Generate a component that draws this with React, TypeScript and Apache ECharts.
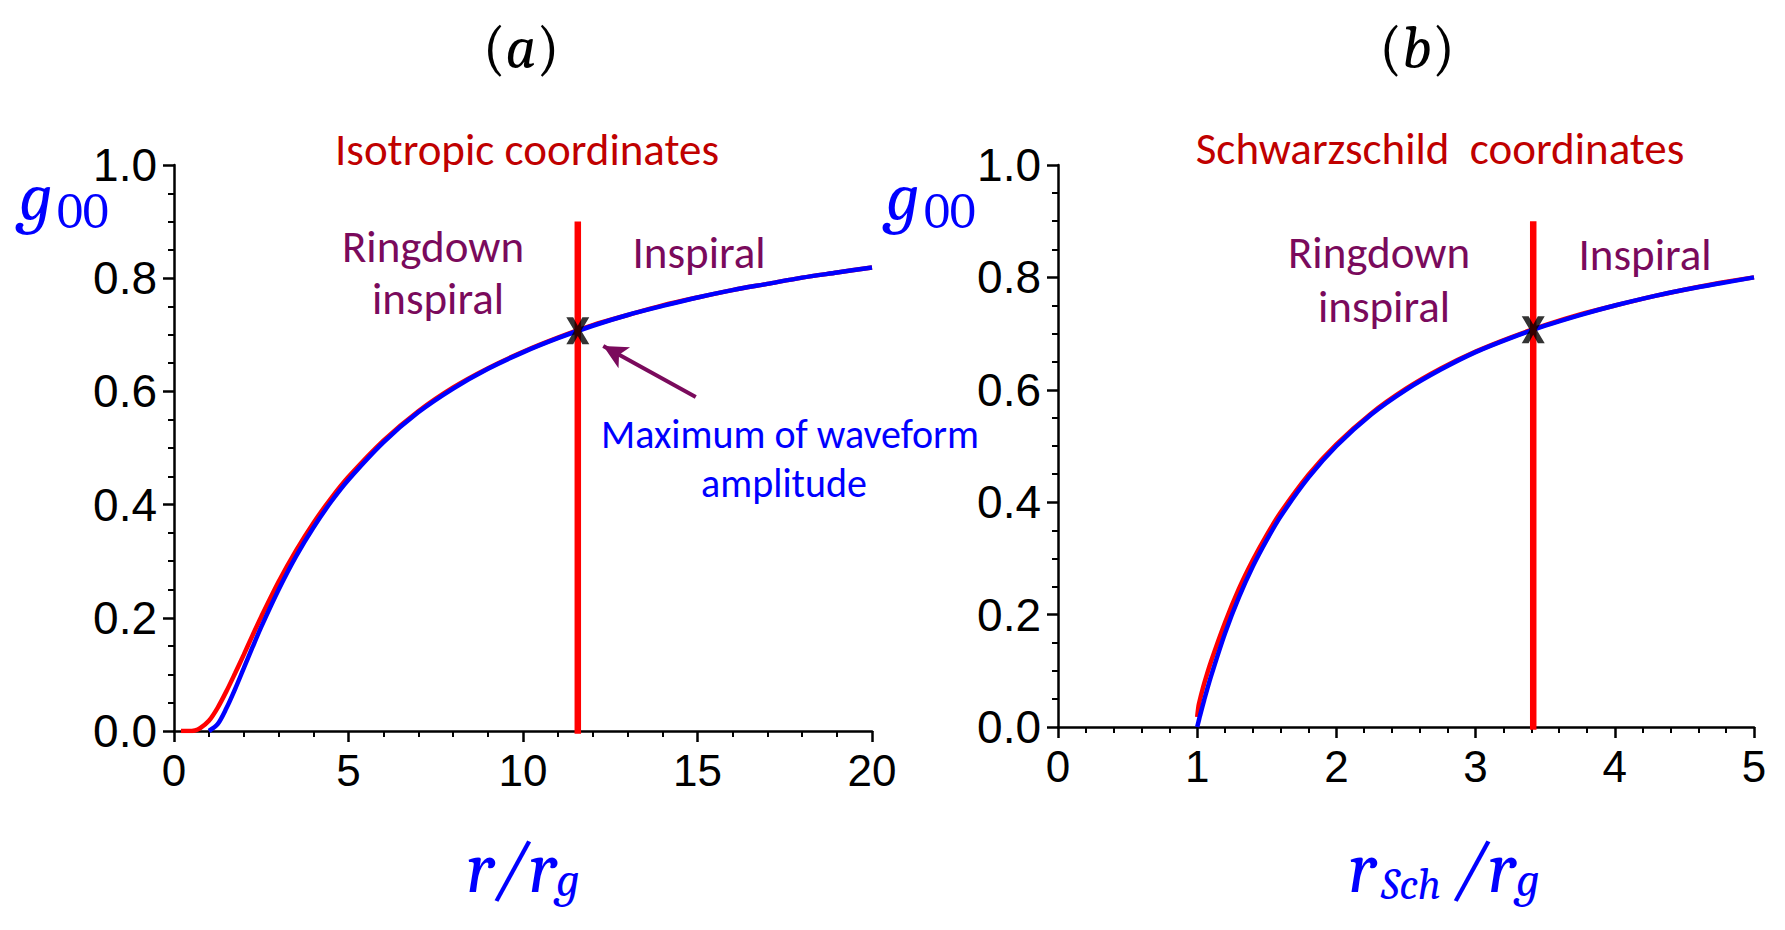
import React, { useEffect, useRef } from "react";
import * as echarts from "echarts";

// Panel (a): isotropic radius r/r_g
const isoBlueR = [1, 1.25, 1.5, 1.75, 2, 2.25, 2.5, 3, 3.5, 4, 4.5, 5, 6, 7, 8, 9, 10, 11, 12, 13, 14, 15, 16, 17, 18, 19, 20];
const isoBlueG = [0, 0.012, 0.04, 0.074, 0.111, 0.148, 0.184, 0.25, 0.309, 0.36, 0.405, 0.444, 0.51, 0.563, 0.605, 0.64, 0.669, 0.694, 0.716, 0.735, 0.751, 0.766, 0.779, 0.79, 0.801, 0.81, 0.819];
const isoRedR = [0.2, 0.4, 0.6, 0.75, 1, 1.25, 1.5, 1.75, 2, 2.25, 2.5, 3, 3.5, 4, 4.5, 5, 6, 7, 8, 9, 10, 11, 12, 13, 14, 15, 16, 17, 18, 19, 20];
const isoRedG = [0, 0, 0.001, 0.005, 0.018, 0.041, 0.07, 0.102, 0.135, 0.169, 0.202, 0.264, 0.319, 0.368, 0.411, 0.449, 0.513, 0.565, 0.607, 0.641, 0.67, 0.695, 0.717, 0.735, 0.752, 0.766, 0.779, 0.79, 0.801, 0.81, 0.819];

// Panel (b): Schwarzschild radius r_Sch/r_g
const schR = [1, 1.01, 1.02, 1.05, 1.1, 1.2, 1.3, 1.4, 1.5, 1.6, 1.8, 2, 2.25, 2.5, 2.75, 3, 3.25, 3.5, 3.75, 4, 4.25, 4.5, 4.75, 5];
const schBlueG = [0, 0.01, 0.02, 0.048, 0.091, 0.167, 0.231, 0.286, 0.333, 0.375, 0.444, 0.5, 0.556, 0.6, 0.636, 0.667, 0.692, 0.714, 0.733, 0.75, 0.765, 0.778, 0.789, 0.8];
const schRedG = [0.018, 0.038, 0.049, 0.077, 0.117, 0.186, 0.246, 0.297, 0.342, 0.382, 0.449, 0.503, 0.558, 0.602, 0.638, 0.668, 0.693, 0.715, 0.734, 0.75, 0.765, 0.778, 0.79, 0.8];

// Maximum of the waveform amplitude: position and height of the divider
const maxIso = [11.57, 0.707];
const maxSch = [3.414, 0.707];
const dividerTop = 0.9;

// Arrow pointing at the maximum in panel (a)
const arrowFrom = [14.95, 0.59];
const arrowTo = [12.3, 0.68];

const RED = "#FF0000";
const BLUE = "#0000FF";
const DARK_RED = "#C00000";
const PURPLE = "#7A0A5C";
const SANS = "'Liberation Sans', Arial, sans-serif";
const TEXT = "Carlito, Lato, 'Open Sans', sans-serif";
const MATH = "Caladea, 'DejaVu Serif', serif";

const X_MARK = "path://M0,0 L3,0 L5,3.4 L7,0 L10,0 L6.5,5.5 L10,11 L7,11 L5,7.6 L3,11 L0,11 L3.5,5.5 Z";

const zip = (xs: number[], ys: number[]) => xs.map((x, i) => [x, ys[i]]);

function makeX(gridIndex: number, max: number, interval: number, minorSplit: number) {
  return {
    type: "value",
    gridIndex,
    min: 0,
    max,
    interval,
    axisLine: { show: true, onZero: false, lineStyle: { color: "#000", width: 2.5 } },
    axisTick: { show: true, length: 11, lineStyle: { color: "#000", width: 2.5 } },
    minorTick: { show: true, splitNumber: minorSplit, length: 6, lineStyle: { color: "#000", width: 2 } },
    axisLabel: { color: "#000", fontFamily: SANS, fontSize: 44, margin: 17 },
    splitLine: { show: false },
    minorSplitLine: { show: false },
  };
}

function makeY(gridIndex: number) {
  return {
    type: "value",
    gridIndex,
    min: 0,
    max: 1,
    interval: 0.2,
    axisLine: { show: true, onZero: false, lineStyle: { color: "#000", width: 2.5 } },
    axisTick: { show: true, length: 11, lineStyle: { color: "#000", width: 2.5 } },
    minorTick: { show: true, splitNumber: 4, length: 6, lineStyle: { color: "#000", width: 2 } },
    axisLabel: {
      color: "#000",
      fontFamily: SANS,
      fontSize: 46,
      margin: 17,
      formatter: (v: number) => v.toFixed(1),
    },
    splitLine: { show: false },
    minorSplitLine: { show: false },
  };
}

function curve(idx: number, data: number[][], color: string, z: number) {
  return {
    type: "line",
    xAxisIndex: idx,
    yAxisIndex: idx,
    data,
    showSymbol: false,
    smooth: 0.3,
    lineStyle: { color, width: 4.5 },
    z,
    silent: true,
  };
}

function divider(idx: number, at: number[]) {
  return {
    type: "line",
    xAxisIndex: idx,
    yAxisIndex: idx,
    data: [
      [at[0], -0.005],
      [at[0], dividerTop],
    ],
    showSymbol: false,
    lineStyle: { color: RED, width: 6.5 },
    z: 5,
    silent: true,
  };
}

function marker(idx: number, at: number[], extra: any = {}) {
  return {
    type: "scatter",
    xAxisIndex: idx,
    yAxisIndex: idx,
    data: [at],
    symbol: X_MARK,
    symbolSize: [23, 27],
    itemStyle: { color: "#000" },
    z: 6,
    silent: true,
    ...extra,
  };
}

function txt(text: string, x: number, y: number, color: string, size: number, extra: any = {}) {
  return {
    type: "text",
    x,
    y,
    silent: true,
    style: {
      text,
      fill: color,
      fontFamily: TEXT,
      fontSize: size,
      align: "center",
      verticalAlign: "middle",
      ...extra,
    },
  };
}

function mathParts(parts: { t: string; x: number; y: number; size: number; italic?: boolean }[], color: string) {
  return parts.map((p) => ({
    type: "text",
    x: p.x,
    y: p.y,
    silent: true,
    style: {
      text: p.t,
      fill: color,
      fontFamily: MATH,
      fontSize: p.size,
      fontStyle: p.italic === false ? "normal" : "italic",
      align: "left",
      verticalAlign: "middle",
    },
  }));
}

function panelLabel(letter: string, cx: number, cy: number) {
  return {
    type: "text",
    x: cx,
    y: cy,
    silent: true,
    style: {
      text: `{p|(}{i|${letter}}{p|)}`,
      align: "center",
      verticalAlign: "middle",
      rich: {
        p: { fontFamily: MATH, fontSize: 60, fill: "#000" },
        i: { fontFamily: MATH, fontSize: 60, fontStyle: "italic", fill: "#000" },
      },
    },
  };
}

const option = {
  animation: false,
  backgroundColor: "#fff",
  grid: [
    { left: 174, top: 165, width: 698, height: 566 },
    { left: 1058, top: 165, width: 696, height: 562 },
  ],
  xAxis: [makeX(0, 20, 5, 5), makeX(1, 5, 1, 5)],
  yAxis: [makeY(0), makeY(1)],
  series: [
    curve(0, zip(isoRedR, isoRedG), RED, 2),
    curve(0, zip(isoBlueR, isoBlueG), BLUE, 3),
    divider(0, maxIso),
    marker(0, maxIso, {
      markLine: {
        silent: true,
        symbol: ["none", "arrow"],
        symbolSize: [18, 24],
        lineStyle: { color: PURPLE, width: 4, type: "solid" },
        label: { show: false },
        data: [[{ coord: arrowFrom }, { coord: arrowTo }]],
      },
    }),
    curve(1, zip(schR, schRedG), RED, 2),
    curve(1, zip(schR, schBlueG), BLUE, 3),
    divider(1, maxSch),
    marker(1, maxSch),
  ],
  graphic: [
    panelLabel("a", 521, 48),
    panelLabel("b", 1417, 48),
    txt("Isotropic coordinates", 527, 149, DARK_RED, 45),
    txt("Schwarzschild  coordinates", 1440, 148, DARK_RED, 45),
    txt("Ringdown", 433, 246, PURPLE, 45),
    txt("inspiral", 438, 298, PURPLE, 45),
    txt("Inspiral", 699, 252, PURPLE, 45),
    txt("Ringdown", 1379, 252, PURPLE, 45),
    txt("inspiral", 1384, 306, PURPLE, 45),
    txt("Inspiral", 1645, 254, PURPLE, 45),
    txt("Maximum of waveform", 790, 434, BLUE, 40),
    txt("amplitude", 784, 483, BLUE, 40),
    ...mathParts(
      [
        { t: "g", x: 19, y: 198, size: 68 },
        { t: "00", x: 57, y: 212, size: 50, italic: false },
      ],
      BLUE
    ),
    ...mathParts(
      [
        { t: "g", x: 886, y: 198, size: 68 },
        { t: "00", x: 924, y: 212, size: 50, italic: false },
      ],
      BLUE
    ),
    ...mathParts(
      [
        { t: "r/r", x: 466, y: 868, size: 74 },
        { t: "g", x: 556, y: 880, size: 48 },
      ],
      BLUE
    ),
    ...mathParts(
      [
        { t: "r", x: 1348, y: 868, size: 74 },
        { t: "Sch", x: 1381, y: 884, size: 44 },
        { t: "/r", x: 1453, y: 868, size: 74 },
        { t: "g", x: 1516, y: 880, size: 48 },
      ],
      BLUE
    ),
  ],
};

export default function App() {
  const ref = useRef<HTMLDivElement>(null);
  useEffect(() => {
    document.body.style.margin = "0";
    const chart = echarts.init(ref.current!, null, { renderer: "svg" });
    chart.setOption(option as any);
    return () => chart.dispose();
  }, []);
  return <div ref={ref} style={{ width: 1785, height: 930 }} />;
}
